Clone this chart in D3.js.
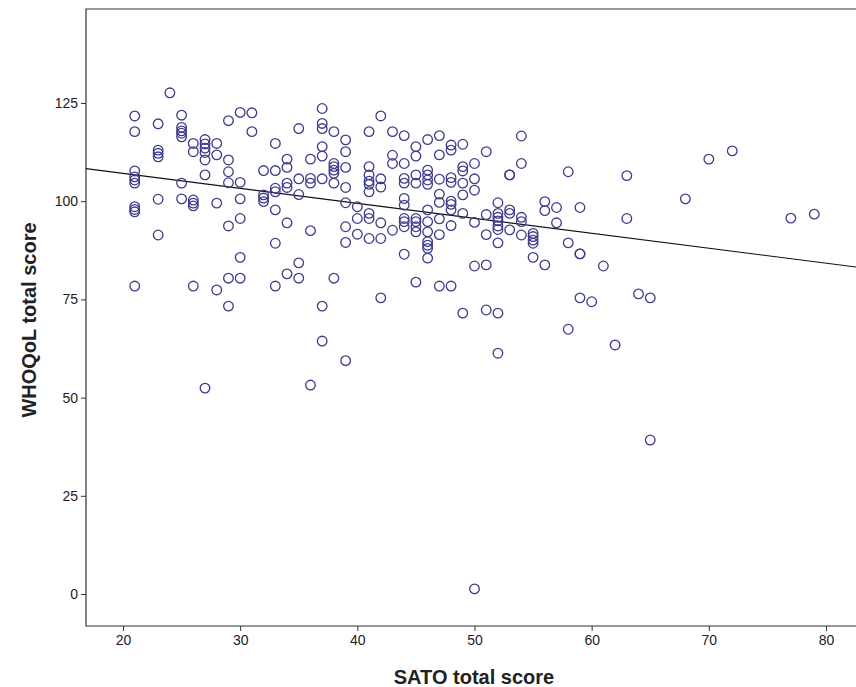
<!DOCTYPE html>
<html>
<head>
<meta charset="utf-8">
<script src="https://cdn.jsdelivr.net/npm/d3@7"></script>
<style>
  body { margin: 0; background: #fff; }
  text { font-family: "Liberation Sans", Arial, sans-serif; }
</style>
</head>
<body>
<svg id="chart" width="856" height="687"></svg>
<script>
const satoScores = [21, 23, 24, 25, 26, 27, 28, 29, 30, 31, 32, 33, 34, 35, 36, 37, 38, 39, 40,
    41, 42, 43, 44, 45, 46, 47, 48, 49, 50, 51, 52, 53, 54, 55, 56, 57, 58, 59, 60, 61, 62, 63,
    64, 65, 68, 70, 72, 77, 79]
const whoqolScores = [
    [121.7, 117.7, 107.7, 106.2, 105.4, 104.6, 98.6, 97.9, 97.3, 78.4],   // 21
    [119.7, 113.0, 112.2, 111.3, 100.5, 91.4],                            // 23
    [127.6],                                                              // 24
    [121.9, 118.8, 117.9, 117.3, 116.4, 104.6, 100.6],                    // 25
    [114.7, 112.6, 100.3, 99.5, 98.8, 78.4],                              // 26
    [115.7, 114.6, 113.5, 112.4, 110.5, 106.7, 52.4],                     // 27
    [114.7, 111.8, 99.5, 77.4],                                           // 28
    [120.5, 110.5, 107.5, 104.7, 93.7, 80.4, 73.3],                       // 29
    [122.6, 104.8, 100.6, 95.6, 85.7, 80.4],                              // 30
    [122.5, 117.7],                                                       // 31
    [107.8, 101.6, 100.8, 99.9],                                          // 32
    [114.7, 107.8, 103.3, 102.4, 97.8, 89.3, 78.4],                       // 33
    [110.7, 108.6, 104.6, 103.5, 94.5, 81.5],                             // 34
    [118.5, 105.7, 101.7, 84.3, 80.4],                                    // 35
    [110.7, 105.8, 104.6, 92.5, 53.2],                                    // 36
    [123.6, 119.8, 118.5, 113.9, 111.5, 105.7, 73.3, 64.4],               // 37
    [117.7, 109.6, 108.8, 107.9, 107.1, 104.6, 80.4],                     // 38
    [115.6, 112.6, 108.6, 103.5, 99.6, 93.5, 89.5, 59.4],                 // 39
    [98.6, 95.6, 91.6],                                                   // 40
    [117.7, 108.8, 106.7, 105.1, 104.3, 102.4, 96.9, 95.6, 90.5],         // 41
    [121.7, 105.7, 103.6, 94.5, 90.5, 75.4],                              // 42
    [117.7, 111.7, 109.6, 92.6],                                          // 43
    [116.7, 109.6, 105.8, 104.6, 100.7, 99.0, 95.6, 94.8, 93.5, 86.5],    // 44
    [113.9, 111.5, 106.7, 104.6, 95.6, 94.8, 93.5, 92.2, 79.4],           // 45
    [115.7, 107.9, 106.7, 105.4, 104.3, 97.8, 94.8, 92.2, 89.7, 88.8, 88.0, 85.5], // 46
    [116.7, 111.8, 105.6, 101.8, 99.7, 95.5, 91.5, 78.4],                 // 47
    [114.3, 113.0, 106.0, 104.8, 100.0, 99.2, 97.8, 93.8, 78.4],          // 48
    [114.5, 108.8, 107.7, 104.6, 101.6, 96.9, 71.5],                      // 49
    [109.6, 105.7, 102.8, 94.6, 83.5, 1.3],                               // 50
    [112.6, 96.6, 91.5, 83.8, 72.3],                                      // 51
    [99.6, 96.9, 95.9, 95.0, 93.7, 92.8, 89.4, 71.5, 61.3],               // 52
    [106.7, 106.7, 97.8, 96.9, 92.7],                                     // 53
    [116.6, 109.6, 95.9, 94.8, 91.4],                                     // 54
    [91.8, 91.0, 90.1, 89.3, 85.7],                                       // 55
    [99.9, 97.6, 83.8],                                                   // 56
    [98.4, 94.5],                                                         // 57
    [107.5, 89.4, 67.4],                                                  // 58
    [98.4, 86.6, 86.6, 75.4],                                             // 59
    [74.4],                                                               // 60
    [83.5],                                                               // 61
    [63.4],                                                               // 62
    [106.5, 95.6],                                                        // 63
    [76.4],                                                               // 64
    [75.4, 39.2],                                                         // 65
    [100.6],                                                              // 68
    [110.7],                                                              // 70
    [112.8],                                                              // 72
    [95.7],                                                               // 77
    [96.7]                                                                // 79
]
const xTicks = [20, 30, 40, 50, 60, 70, 80]
const yTicks = [0, 25, 50, 75, 100, 125]

const svg = d3.select("#chart")
const plotLeft = 86, plotTop = 9, plotBottom = 626, plotRight = 856

const x = d3.scaleLinear().domain([20, 80]).range([123, 826])
const y = d3.scaleLinear().domain([0, 125]).range([594, 103])

// flatten into one point list
const points = []
satoScores.forEach((s, i) => {
    whoqolScores[i].forEach(w => points.push({sato: s, whoqol: w}))
})

// frame (left, top, bottom); right side runs off the picture
svg.append("path")
    .attr("d", `M${plotRight},${plotTop}H${plotLeft}V${plotBottom}H${plotRight}`)
    .attr("fill", "none")
    .attr("stroke", "#333")
    .attr("stroke-width", 1.2)

const yAxis = svg.append("g")
    .attr("transform", `translate(${plotLeft},0)`)
    .call(d3.axisLeft(y).tickValues(yTicks).tickSize(5).tickPadding(3))
yAxis.select(".domain").remove()

const xAxis = svg.append("g")
    .attr("transform", `translate(0,${plotBottom})`)
    .call(d3.axisBottom(x).tickValues(xTicks).tickSize(5).tickPadding(4))
xAxis.select(".domain").remove()

svg.selectAll(".tick line").attr("stroke", "#333")
svg.selectAll(".tick text")
    .attr("fill", "#222")
    .style("font-size", "14px")
    .style("font-family", "'Liberation Sans', Arial, sans-serif")

// least squares fit line over the whole plot width
const mx = d3.mean(points, d => d.sato)
const my = d3.mean(points, d => d.whoqol)
const slope = d3.sum(points, d => (d.sato - mx) * (d.whoqol - my)) /
    d3.sum(points, d => (d.sato - mx) ** 2)
const intercept = my - slope * mx
const x0 = x.invert(plotLeft), x1 = x.invert(plotRight)

svg.append("line")
    .attr("x1", x(x0)).attr("y1", y(intercept + slope * x0))
    .attr("x2", x(x1)).attr("y2", y(intercept + slope * x1))
    .attr("stroke", "#111")
    .attr("stroke-width", 1.2)

svg.append("g")
    .selectAll("circle")
    .data(points)
    .enter()
    .append("circle")
    .attr("cx", d => x(d.sato))
    .attr("cy", d => y(d.whoqol))
    .attr("r", 4.8)
    .attr("fill", "none")
    .attr("stroke", "#3c3c8c")
    .attr("stroke-width", 1.3)

svg.append("text")
    .attr("x", 474)
    .attr("y", 684)
    .attr("text-anchor", "middle")
    .style("font-size", "20px")
    .style("font-weight", "bold")
    .attr("fill", "#222")
    .text("SATO total score")

svg.append("text")
    .attr("transform", "translate(36,320) rotate(-90)")
    .attr("text-anchor", "middle")
    .style("font-size", "20px")
    .style("font-weight", "bold")
    .attr("fill", "#222")
    .text("WHOQoL total score")
</script>
</body>
</html>
